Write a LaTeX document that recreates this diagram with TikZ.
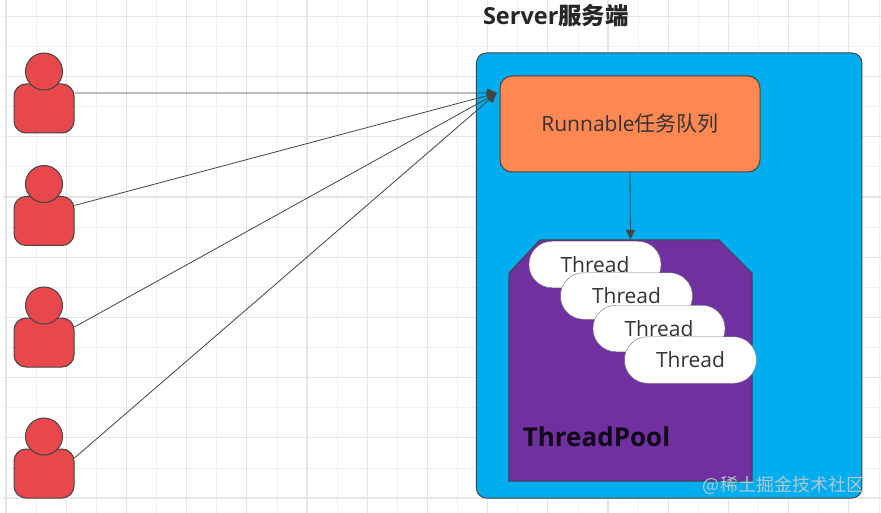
\documentclass[tikz,border=0pt]{standalone}
\usepackage{fontspec}
\setmainfont{Open Sans}
\newfontfamily\cjk{Noto Sans CJK SC}
\usepackage{tikz}
\usetikzlibrary{arrows.meta}

\definecolor{serverblue}{HTML}{00AEEF}
\definecolor{queueorange}{HTML}{FF8752}
\definecolor{poolpurple}{HTML}{7030A0}
\definecolor{personred}{HTML}{E8474C}
\definecolor{edgegray}{HTML}{444444}
\definecolor{markgray}{HTML}{B4C6CE}

\tikzset{
    minorline/.style={draw=black!6, line width=0.8},
    majorline/.style={draw=black!10, line width=1.1},
    personbody/.style={draw=edgegray, line width=1, fill=personred, rounded corners=12, minimum width=60, minimum height=49, inner sep=0},
    personhead/.style={circle, draw=edgegray, line width=1, fill=personred, minimum size=37, inner sep=0},
    threadbox/.style={draw=black!55, fill=white, rounded corners=23, minimum width=132, minimum height=46.5, inner sep=0, font=\fontsize{21}{25}\selectfont, text=black!80},
    flowline/.style={draw=edgegray, line width=0.8, -{Triangle[length=10,width=9]}},
}

\begin{document}
\begin{tikzpicture}[x=1pt, y=-1pt]
    \useasboundingbox (0,0) rectangle (881,513);
    \fill[white] (0,0) rectangle (881,513);

    % Draw the background grid
    \foreach \x in {36.1,96.3,156.5,216.7,276.9,337.1,397.3,457.5,517.7,577.9,638.1,698.3,758.5,818.7,878.9}
        \draw[minorline] (\x,0) -- (\x,513);
    \foreach \y in {46.5,106.7,166.9,227.1,287.3,347.5,407.7,467.9}
        \draw[minorline] (3,\y) -- (881,\y);
    \foreach \x in {6,66.2,126.4,186.6,246.8,307,367.2,427.4,487.6,547.8,608,668.2,728.4,788.6,848.8}
        \draw[majorline] (\x,0) -- (\x,513);
    \foreach \y in {16.4,76.6,136.8,197,257.2,317.4,377.6,437.8,498}
        \draw[majorline] (3,\y) -- (881,\y);

    % Draw the server box and its title
    \node[draw=edgegray, line width=1, fill=serverblue, rounded corners=10, minimum width=385.5, minimum height=445, inner sep=0] (server) at (669.2,275.5) {};
    \node[font=\fontsize{23.5}{28}\selectfont\bfseries, text=black!85, inner sep=0] (servertitle) at (556,15.5) {Server{\cjk\bfseries 服务端}};

    % Draw the task queue
    \node[draw=edgegray, line width=1, fill=queueorange, rounded corners=12, minimum width=260, minimum height=96, inner sep=0, font=\fontsize{21}{25}\selectfont, text=black!80] (queue) at (630,124) {\raisebox{-1pt}{Runnable{\cjk 任务队列}}};
    \coordinate (inlet) at (497,93);

    % Draw the thread pool and the threads on top of it
    \node[minimum width=243, minimum height=241, inner sep=0] (pool) at (630.5,360.5) {};
    \draw[draw=edgegray, line width=1, fill=poolpurple] (pool.south west) -- (509,273) -- (540,240) -- (719,240) -- (752,273) -- (pool.south east) -- cycle;
    \node[threadbox] (thread1) at (595,264.5) {Thread};
    \node[threadbox] (thread2) at (626.5,296) {Thread};
    \node[threadbox] (thread3) at (659,328.5) {Thread};
    \node[threadbox] (thread4) at (690.5,360) {Thread};
    \node[font=\fontsize{26}{31}\selectfont\bfseries, text=black!85!poolpurple, inner sep=0] (poollabel) at (596.5,437) {ThreadPool};

    % Draw the clients
    \foreach \i/\y in {1/108.5,2/221,3/342.5,4/473.5} {
        \node[personbody] (body\i) at (44,\y) {};
        \node[personhead] (head\i) at (44,\y-37) {};
    }

    % Requests from the clients, then queue to pool
    \foreach \i in {1,2,3,4}
        \draw[flowline] (body\i.27) -- (inlet);
    \draw[flowline] (queue.south) -- (pool.north);

    % Watermark
    \node[font=\fontsize{18}{22}\cjk, text=markgray, inner sep=0] (watermark) at (783.5,485) {@稀土掘金技术社区};
\end{tikzpicture}
\end{document}
